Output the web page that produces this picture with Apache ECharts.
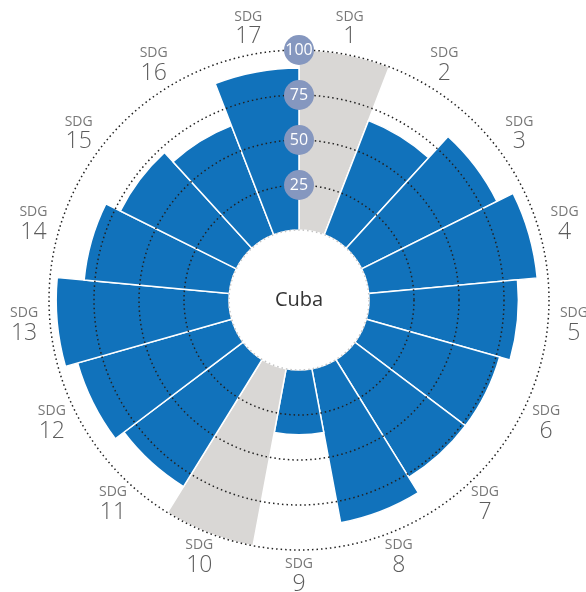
<!DOCTYPE html>
<html>
<head>
<meta charset="utf-8">
<style>
  html, body { margin: 0; padding: 0; background: #fff; }
  #chart { width: 586px; height: 592px; }
</style>
<script src="https://cdn.jsdelivr.net/npm/echarts@6/dist/echarts.min.js"></script>
</head>
<body>
<div id="chart"></div>
<script>
// SDG goals around the wheel
var goals = ['1', '2', '3', '4', '5', '6', '7', '8', '9', '10', '11', '12', '13', '14', '15', '16', '17'];
// scores per goal, null = no data (shown as full grey slice)
var scores = [null, 68, 84, 94, 83, 77, 77, 87, 36, null, 83, 89, 96, 81, 72, 65, 90];
var radiusTicks = [25, 50, 75, 100];
var country = 'Cuba';

var centerX = 299, centerY = 300;
// goal labels sit a bit outside the 100 ring
var labelRadius = 114.5;

var chart = echarts.init(document.getElementById('chart'));

var barData = scores.map(function (v) {
    if (v === null) {
        return { value: 100, itemStyle: { color: '#d9d7d5' } };
    }
    return v;
});

var labelData = goals.map(function (g) {
    return [labelRadius, g];
});

var option = {
    animation: false,
    polar: {
        center: [centerX, centerY],
        radius: [70, 250]
    },
    angleAxis: {
        type: 'category',
        data: goals,
        startAngle: 90,
        clockwise: true,
        axisLine: { show: false },
        axisTick: { show: false },
        splitLine: { show: false },
        axisLabel: { show: false }
    },
    radiusAxis: {
        type: 'value',
        min: 0,
        max: 100,
        interval: 25,
        z: 5,
        axisLine: { show: false },
        axisTick: { show: false },
        splitLine: {
            show: true,
            lineStyle: {
                color: ['#c4c4c4', '#222', '#222', '#222', '#222'],
                width: 1.5,
                type: [1.5, 3]
            }
        },
        axisLabel: {
            showMinLabel: false,
            margin: 0,
            align: 'center',
            verticalAlign: 'middle',
            width: 30,
            height: 30,
            lineHeight: 30,
            borderRadius: 15,
            backgroundColor: '#8597bf',
            color: '#fff',
            fontSize: 16,
            fontFamily: 'Open Sans',
            formatter: function (v) {
                return radiusTicks.indexOf(v) >= 0 ? String(v) : '';
            }
        }
    },
    series: [{
        type: 'bar',
        coordinateSystem: 'polar',
        data: barData,
        barCategoryGap: '0%',
        itemStyle: {
            color: '#1172bb',
            borderColor: '#fff',
            borderWidth: 1.5
        }
    }, {
        // goal names around the outside
        type: 'scatter',
        coordinateSystem: 'polar',
        data: labelData,
        symbolSize: 0,
        clip: false,
        silent: true,
        label: {
            show: true,
            position: 'inside',
            formatter: function (p) {
                return '{a|SDG}\n{b|' + p.value[1] + '}';
            },
            rich: {
                a: { fontSize: 14, color: '#555', fontFamily: 'Open Sans', lineHeight: 16, align: 'center' },
                b: { fontSize: 23, color: '#333', fontFamily: 'Open Sans', fontWeight: 300, lineHeight: 24, align: 'center' }
            }
        }
    }],
    graphic: [{
        type: 'text',
        x: centerX,
        y: centerY,
        style: {
            text: country,
            align: 'center',
            verticalAlign: 'middle',
            fontSize: 20,
            fontFamily: 'Open Sans',
            fill: '#333'
        }
    }]
};

chart.setOption(option);
</script>
</body>
</html>
